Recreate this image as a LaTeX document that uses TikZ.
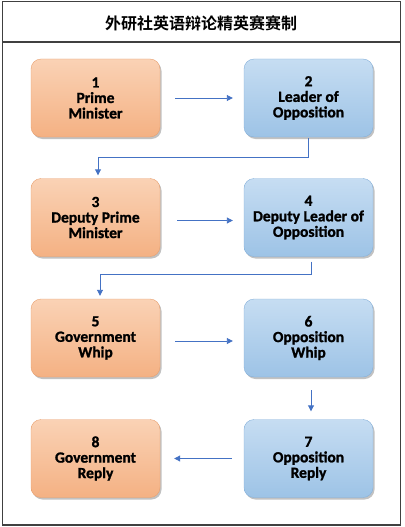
\documentclass[tikz,border=0pt]{standalone}
\usepackage{fontspec}
\setmainfont{Carlito}
\newfontfamily\boxfont{Carlito Bold}[FakeBold=1.3]
\newfontfamily\cjkfont{Noto Sans CJK SC Bold}
\usetikzlibrary{arrows.meta,shadows,calc}
\definecolor{orbase}{HTML}{F4B183}
\definecolor{ortop}{HTML}{FAD2B5}
\definecolor{orline}{HTML}{E8A070}
\definecolor{blbase}{HTML}{9DC3E6}
\definecolor{bltop}{HTML}{C6DDF2}
\definecolor{blline}{HTML}{85B0DA}
\definecolor{arrcol}{HTML}{4472C4}
\definecolor{framecol}{HTML}{404040}
\begin{document}
\begin{tikzpicture}[x=1pt,y=-1pt,
  box/.style={rounded corners=10pt, minimum width=129pt, minimum height=78pt,
    align=center, inner sep=2pt, font=\boxfont\fontsize{15.5}{15.5}\selectfont,
    text=black,
    drop shadow={shadow xshift=1.5pt, shadow yshift=-2pt, opacity=0.4, fill=black!60}},
  gov/.style={box, top color=ortop, bottom color=orbase, draw=orline, line width=0.4pt},
  opp/.style={box, top color=bltop, bottom color=blbase, draw=blline, line width=0.4pt},
  arr/.style={draw=arrcol, line width=0.9pt, -{Triangle[length=6pt,width=6pt]}, color=arrcol}
]
\useasboundingbox (0,0) rectangle (404,527);
\draw[framecol, line width=1.5pt] (2.5,1.5) rectangle (400.5,525);
\draw[framecol, line width=2pt] (2.5,42.5) -- (400.5,42.5);
\node[font=\cjkfont\fontsize{16}{18}\selectfont] (title) at (201,23) {外研社英语辩论精英赛赛制};

\node[gov] (p1) at (95.5,98) {1\\Prime\\Minister};
\node[opp] (p2) at (308.5,98) {2\\Leader of\\Opposition};
\node[gov] (p3) at (95.5,217.5) {3\\Deputy Prime\\Minister};
\node[opp] (p4) at (308.5,217.5) {4\\Deputy Leader of\\Opposition};
\node[gov] (p5) at (95.5,338) {5\\Government\\Whip};
\node[opp] (p6) at (308.5,338) {6\\Opposition\\Whip};
\node[gov] (p8) at (95.5,458.5) {8\\Government\\Reply};
\node[opp] (p7) at (308.5,458.5) {7\\Opposition\\Reply};

\draw[arr] ([xshift=15pt]p1.east) -- ([xshift=-11pt]p2.west);
\draw[arr] ([shift={(17pt,-3pt)}]p3.east) -- ([shift={(-11pt,-3pt)}]p4.west);
\draw[arr] ([shift={(15pt,-3pt)}]p5.east) -- ([shift={(-11pt,-3pt)}]p6.west);
\draw[arr] ([xshift=-12pt]p7.west) -- ([xshift=14pt]p8.east);

\coordinate (c1) at ([yshift=-20pt]p2.south);
\draw[arr] ([yshift=-1pt]p2.south) -- (c1) -- (c1 -| {$(p3.north)+(2.5pt,0)$}) -- ([shift={(2.5pt,3pt)}]p3.north);
\coordinate (c2) at ([shift={(2.5pt,-18pt)}]p4.south);
\draw[arr] ([shift={(2.5pt,-5pt)}]p4.south) -- (c2) -- (c2 -| {$(p5.north)+(4.5pt,0)$}) -- ([shift={(4.5pt,3pt)}]p5.north);
\draw[arr] ([shift={(2.5pt,-13pt)}]p6.south) -- ([shift={(2.5pt,8pt)}]p7.north);
\end{tikzpicture}
\end{document}
